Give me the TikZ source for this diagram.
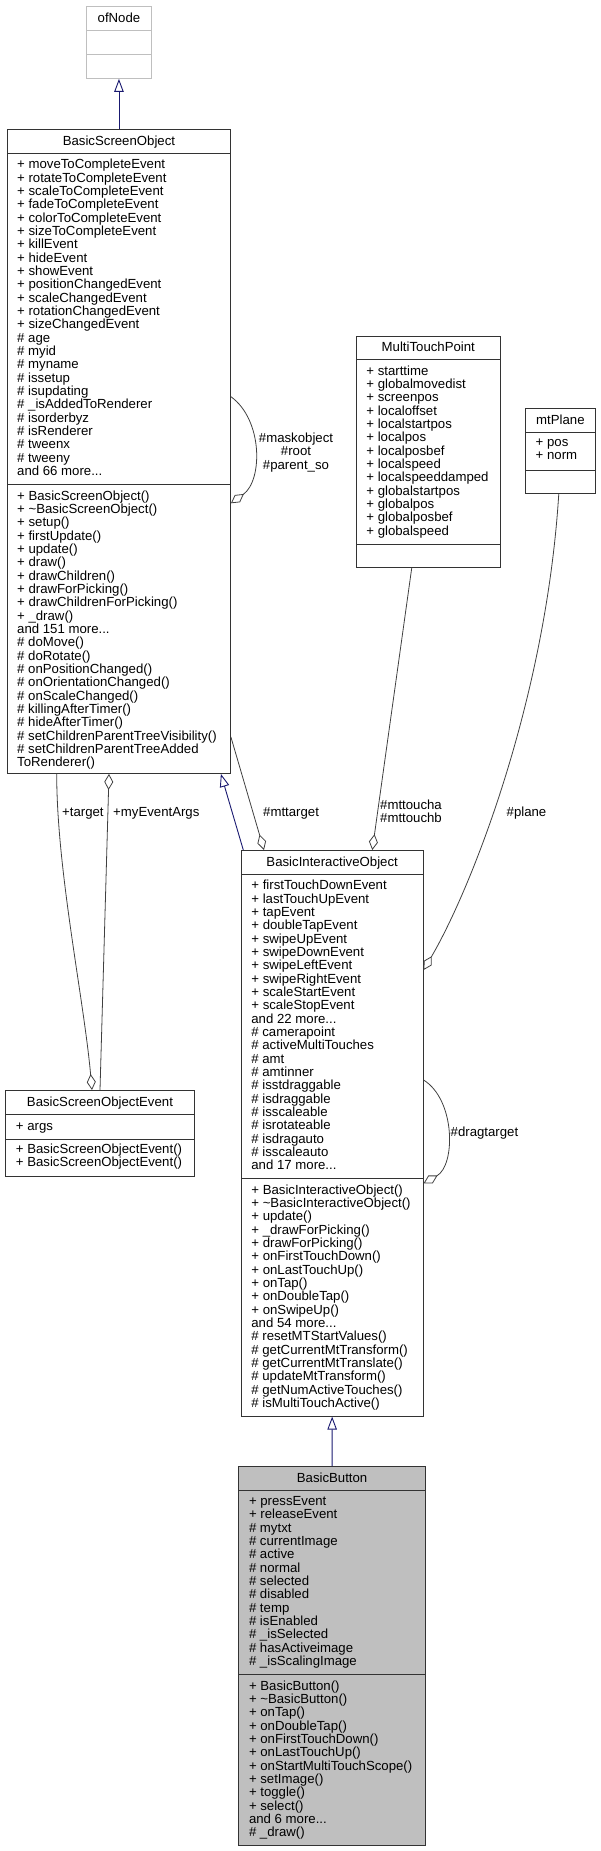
\documentclass[tikz,border=0pt]{standalone}
\usepackage{fontspec}
\setmainfont{Liberation Sans}
\usetikzlibrary{arrows.meta,calc}
\newcommand\Ls{\rule[-2.5pt]{0pt}{13pt}}
\definecolor{edgeC}{HTML}{404040}
\definecolor{inhC}{HTML}{191970}
\definecolor{bbFill}{HTML}{BFBFBF}
\definecolor{bdC}{HTML}{333333}
\definecolor{ofC}{HTML}{BFBFBF}
\begin{document}
\begin{tikzpicture}[x=1pt,y=-1pt,
  every node/.style={font=\fontsize{13.2}{13.33}\selectfont},
  sec/.style={draw=bdC, line width=0.9pt, fill=white, anchor=north west, inner sep=0pt,
    execute at begin node=\Ls, execute at end node=\Ls},
  txt/.style={anchor=north west, inner sep=0pt, align=left,
    execute at begin node=\Ls, execute at end node=\Ls},
  lbl/.style={inner sep=0pt, execute at begin node=\Ls, execute at end node=\Ls},
  inh/.style={draw=inhC, line width=0.9pt, -{Triangle[open, length=13pt, width=9.5pt, fill=white]}},
  agg/.style={draw=edgeC, line width=0.8pt, -{Diamond[open, length=16pt, width=9pt, fill=white]}},
  aggs/.style={draw=edgeC, line width=0.8pt, {Diamond[open, length=16pt, width=9pt, fill=white]}-},
]
\useasboundingbox (0,0) rectangle (600,1851);

% ofNode
\node[sec, draw=ofC, minimum width=65, minimum height=24] (onT) at (86,6) {ofNode};
\node[sec, draw=ofC, minimum width=65, minimum height=24] (onA) at (86,30) {};
\node[sec, draw=ofC, minimum width=65, minimum height=24] (onM) at (86,54) {};

% BasicScreenObject
\node[sec, minimum width=223, minimum height=24] (bsoT) at (7,129) {BasicScreenObject};
\node[sec, minimum width=223, minimum height=331] (bsoA) at (7,153) {};
\node[sec, minimum width=223, minimum height=289] (bsoM) at (7,484) {};
\node[txt] (bsoAt) at ($(bsoA.north west)+(10,6)$) {+ moveToCompleteEvent\\+ rotateToCompleteEvent\\+ scaleToCompleteEvent\\+ fadeToCompleteEvent\\+ colorToCompleteEvent\\+ sizeToCompleteEvent\\+ killEvent\\+ hideEvent\\+ showEvent\\+ positionChangedEvent\\+ scaleChangedEvent\\+ rotationChangedEvent\\+ sizeChangedEvent\\\# age\\\# myid\\\# myname\\\# issetup\\\# isupdating\\\# \_isAddedToRenderer\\\# isorderbyz\\\# isRenderer\\\# tweenx\\\# tweeny\\and 66 more...};
\node[txt] (bsoMt) at ($(bsoM.north west)+(10,6.5)$) {+ BasicScreenObject()\\+ \textasciitilde BasicScreenObject()\\+ setup()\\+ firstUpdate()\\+ update()\\+ draw()\\+ drawChildren()\\+ drawForPicking()\\+ drawChildrenForPicking()\\+ \_draw()\\and 151 more...\\\# doMove()\\\# doRotate()\\\# onPositionChanged()\\\# onOrientationChanged()\\\# onScaleChanged()\\\# killingAfterTimer()\\\# hideAfterTimer()\\\# setChildrenParentTreeVisibility()\\\# setChildrenParentTreeAdded\\ToRenderer()};

% MultiTouchPoint
\node[sec, minimum width=144.3, minimum height=23.6] (mtpT) at (355.7,335.7) {MultiTouchPoint};
\node[sec, minimum width=144.3, minimum height=184.4] (mtpA) at (355.7,359.3) {};
\node[sec, minimum width=144.3, minimum height=23.6] (mtpM) at (355.7,543.7) {};
\node[txt] (mtpAt) at ($(mtpA.north west)+(10.5,6)$) {+ starttime\\+ globalmovedist\\+ screenpos\\+ localoffset\\+ localstartpos\\+ localpos\\+ localposbef\\+ localspeed\\+ localspeeddamped\\+ globalstartpos\\+ globalpos\\+ globalposbef\\+ globalspeed};

% mtPlane
\node[sec, minimum width=70, minimum height=24] (mpT) at (525,408.3) {mtPlane};
\node[sec, minimum width=70, minimum height=38] (mpA) at (525,432.3) {};
\node[sec, minimum width=70, minimum height=23] (mpM) at (525,470.3) {};
\node[txt] (mpAt) at ($(mpA.north west)+(10.5,6)$) {+ pos\\+ norm};

% BasicInteractiveObject
\node[sec, minimum width=182, minimum height=24] (bioT) at (240.7,850) {BasicInteractiveObject};
\node[sec, minimum width=182, minimum height=304.3] (bioA) at (240.7,874) {};
\node[sec, minimum width=182, minimum height=237.4] (bioM) at (240.7,1178.3) {};
\node[txt] (bioAt) at ($(bioA.north west)+(10.5,6.2)$) {+ firstTouchDownEvent\\+ lastTouchUpEvent\\+ tapEvent\\+ doubleTapEvent\\+ swipeUpEvent\\+ swipeDownEvent\\+ swipeLeftEvent\\+ swipeRightEvent\\+ scaleStartEvent\\+ scaleStopEvent\\and 22 more...\\\# camerapoint\\\# activeMultiTouches\\\# amt\\\# amtinner\\\# isstdraggable\\\# isdraggable\\\# isscaleable\\\# isrotateable\\\# isdragauto\\\# isscaleauto\\and 17 more...};
\node[txt] (bioMt) at ($(bioM.north west)+(10.5,6)$) {+ BasicInteractiveObject()\\+ \textasciitilde BasicInteractiveObject()\\+ update()\\+ \_drawForPicking()\\+ drawForPicking()\\+ onFirstTouchDown()\\+ onLastTouchUp()\\+ onTap()\\+ onDoubleTap()\\+ onSwipeUp()\\and 54 more...\\\# resetMTStartValues()\\\# getCurrentMtTransform()\\\# getCurrentMtTranslate()\\\# updateMtTransform()\\\# getNumActiveTouches()\\\# isMultiTouchActive()};

% BasicButton
\node[sec, fill=bbFill, minimum width=186.7, minimum height=24.3] (bbT) at (238.3,1466) {BasicButton};
\node[sec, fill=bbFill, minimum width=186.7, minimum height=184] (bbA) at (238.3,1490.3) {};
\node[sec, fill=bbFill, minimum width=186.7, minimum height=170.7] (bbM) at (238.3,1674.3) {};
\node[txt] (bbAt) at ($(bbA.north west)+(10.5,6)$) {+ pressEvent\\+ releaseEvent\\\# mytxt\\\# currentImage\\\# active\\\# normal\\\# selected\\\# disabled\\\# temp\\\# isEnabled\\\# \_isSelected\\\# hasActiveimage\\\# \_isScalingImage};
\node[txt] (bbMt) at ($(bbM.north west)+(10.5,6)$) {+ BasicButton()\\+ \textasciitilde BasicButton()\\+ onTap()\\+ onDoubleTap()\\+ onFirstTouchDown()\\+ onLastTouchUp()\\+ onStartMultiTouchScope()\\+ setImage()\\+ toggle()\\+ select()\\and 6 more...\\\# \_draw()};

% BasicScreenObjectEvent
\node[sec, minimum width=189.6, minimum height=24] (evT) at (4.7,1090) {BasicScreenObjectEvent};
\node[sec, minimum width=189.6, minimum height=25] (evA) at (4.7,1114) {};
\node[sec, minimum width=189.6, minimum height=36.7] (evM) at (4.7,1139) {};
\node[txt] (evAt) at ($(evA.north west)+(11,6.2)$) {+ args};
\node[txt] (evMt) at ($(evM.north west)+(11,4.5)$) {+ BasicScreenObjectEvent()\\+ BasicScreenObjectEvent()};

% connector end points
\coordinate (inhA) at ($(bioT.north west)+(2.6,0)$);
\coordinate (inhB) at ($(bsoM.south east)+(-10,0)$);
\coordinate (slA) at ($(bsoA.north east)+(0,243.7)$);
\coordinate (slB) at ($(bsoM.north east)+(0,19.3)$);
\coordinate (dlA) at ($(bioA.north east)+(0,206)$);
\coordinate (dlB) at ($(bioM.north east)+(0,5)$);
\coordinate (mtA) at ($(bsoM.north east)+(0,253)$);
\coordinate (mtB) at ($(bioT.north west)+(23.3,0)$);
\coordinate (toA) at ($(mtpM.south west)+(56,0)$);
\coordinate (toB) at ($(bioT.north west)+(131.6,0)$);
\coordinate (plA) at ($(mpM.south)+(-1.7,0)$);
\coordinate (plB) at ($(bioA.north east)+(0,96)$);
\coordinate (tgA) at ($(bsoM.south west)+(49.7,0)$);
\coordinate (tgB) at ($(evT.north west)+(87.3,0)$);
\coordinate (meA) at ($(bsoM.south west)+(102,0)$);
\coordinate (meB) at ($(evT.north west)+(95.3,0)$);

% inheritance
\draw[inh] (bsoT.north) -- (onM.south);
\draw[inh] (inhA) -- (inhB);
\draw[inh] (bbT.north) -- (bioM.south);

% aggregations
\draw[agg] (slA) .. controls ($(slA)+(32,23)$) and ($(slB)+(32,-23)$) .. (slB);
\draw[agg] (dlA) .. controls ($(dlA)+(32,20)$) and ($(dlB)+(32,-18)$) .. (dlB);
\draw[agg] (mtA) -- (mtB);
\draw[agg] (toA) -- (toB);
\draw[agg] (plA) .. controls ($(plA)+(-13,207)$) and ($(plB)+(47,-80)$) .. (plB);
\draw[agg] (tgA) .. controls ($(tgA)+(0,97)$) and ($(tgB)+(-8,-90)$) .. (tgB);
\draw[aggs] (meA) -- (meB);

% labels
\node[lbl, align=center] (lSelf) at (296,452.3) {\#maskobject\\\#root\\\#parent\_so};
\node[lbl, anchor=west] (lDrag) at (450.5,1132.7) {\#dragtarget};
\node[lbl, anchor=west] (lMtt) at (263,812.7) {\#mttarget};
\node[lbl, anchor=west, align=left] (lTouch) at (380,812.2) {\#mttoucha\\\#mttouchb};
\node[lbl, anchor=west] (lPlane) at (506.5,812.7) {\#plane};
\node[lbl, anchor=west] (lTgt) at (62,812.7) {+target};
\node[lbl, anchor=west] (lArgs) at (113,812.7) {+myEventArgs};
\end{tikzpicture}
\end{document}
